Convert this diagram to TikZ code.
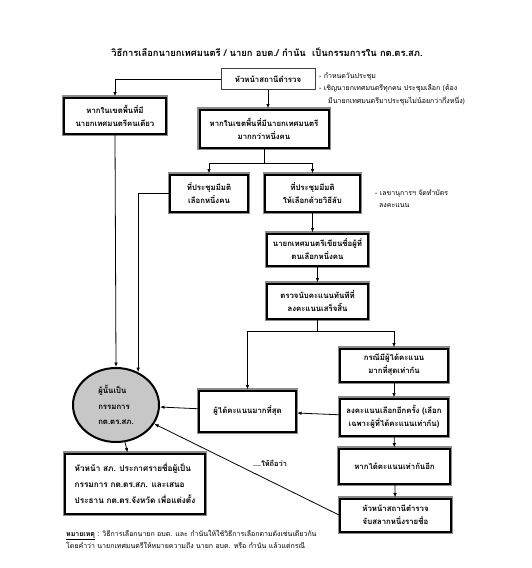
\documentclass[tikz,border=0pt]{standalone}
\usepackage{fontspec}
\newfontfamily\thaifont[Script=Thai]{Loma}
\usetikzlibrary{calc, shapes, arrows.meta}

\begin{document}
\begin{tikzpicture}[x=1pt, y=-1pt, >={Latex[length=4.5pt,width=3.5pt]},
    txt/.style={font=\thaifont\bfseries\fontsize{7.8}{13}\selectfont, inner sep=1pt},
    thinbox/.style={txt, draw=black!75, line width=0.8pt, align=center},
    heavybox/.style={txt, draw=black, line width=2pt, align=center},
    frame/.style={draw=black!45, line width=1.4pt},
    note/.style={font=\thaifont\fontsize{7}{12.5}\selectfont, align=left, anchor=west, inner sep=0pt},
    link/.style={line width=0.8pt}]
    \useasboundingbox (0,0) rectangle (532,568);

    % title
    \node[txt, font=\thaifont\bfseries\fontsize{9.4}{12}\selectfont] (title) at (267,52)
        {วิธีการเลือกนายกเทศมนตรี / นายก อบต./ กำนัน \ เป็นกรรมการใน กต.ตร.สภ.};

    % boxes
    \node[thinbox, minimum width=94pt, minimum height=21pt] (head) at (268,79) {หัวหน้าสถานีตำรวจ};
    \node[heavybox, minimum width=102pt, minimum height=36pt] (single) at (115,115.5)
        {หากในเขตพื้นที่มี\\นายกเทศมนตรีคนเดียว};
    \node[heavybox, minimum width=129pt, minimum height=38pt] (many) at (264,128.5)
        {หากในเขตพื้นที่มีนายกเทศมนตรี\\มากกว่าหนึ่งคน};
    \node[heavybox, minimum width=78pt, minimum height=37pt] (agree) at (209,193)
        {ที่ประชุมมีมติ\\เลือกหนึ่งคน};
    \node[heavybox, minimum width=95pt, minimum height=37pt] (secret) at (312.5,193)
        {ที่ประชุมมีมติ\\ให้เลือกด้วยวิธีลับ};
    \node[heavybox, minimum width=101pt, minimum height=32pt] (write) at (317.5,249.5)
        {นายกเทศมนตรีเขียนชื่อผู้ที่\\ตนเลือกหนึ่งคน};
    \node[heavybox, minimum width=101pt, minimum height=35pt] (count) at (317.5,301)
        {ตรวจนับคะแนนทันทีที่\\ลงคะแนนเสร็จสิ้น};
    \node[heavybox, minimum width=108pt, minimum height=33pt] (tie) at (394,365)
        {กรณีมีผู้ได้คะแนน\\มากที่สุดเท่ากัน};
    \node[heavybox, minimum width=108pt, minimum height=37pt] (revote) at (394,417)
        {ลงคะแนนเลือกอีกครั้ง (เลือก\\เฉพาะผู้ที่ได้คะแนนเท่ากัน)};
    \node[heavybox, minimum width=97pt, minimum height=41pt] (winner) at (247.5,411)
        {ผู้ได้คะแนนมากที่สุด};
    \node[heavybox, minimum width=111pt, minimum height=35pt] (tieagain) at (394.5,466)
        {หากได้คะแนนเท่ากันอีก};
    \node[heavybox, minimum width=111pt, minimum height=33pt] (draw) at (395.5,515)
        {หัวหน้าสถานีตำรวจ\\จับสลากหนึ่งรายชื่อ};
    \node[heavybox, align=left, minimum width=140pt, minimum height=60pt,
        font=\thaifont\bfseries\fontsize{8.2}{16}\selectfont] (announce) at (135,483.5)
        {หัวหน้า สภ. ประกาศรายชื่อผู้เป็น\\กรรมการ กต.ตร.สภ. และเสนอ\\ประธาน กต.ตร.จังหวัด เพื่อแต่งตั้ง};
    \node[txt, ellipse, draw=black, line width=2pt, fill=black!22, align=left,
        minimum width=86pt, minimum height=74pt, font=\thaifont\bfseries\fontsize{7.8}{15.5}\selectfont] (member) at (116,405)
        {ผู้นั้นเป็น\\กรรมการ\\กต.ตร.สภ.};

    % gray frames round the heavy boxes
    \foreach \n in {single,many,agree,secret,write,count,tie,revote,winner,tieagain,draw,announce}
        \draw[frame] ([shift={(-0.7pt,0.7pt)}]\n.north west) rectangle ([shift={(0.7pt,-0.7pt)}]\n.south east);

    % notes
    \node[note] (callnote) at (319,89)
        {- กำหนดวันประชุม\\- เชิญนายกเทศมนตรีทุกคน ประชุมเลือก (ต้อง\\\hspace*{9pt}มีนายกเทศมนตรีมาประชุมไม่น้อยกว่ากึ่งหนึ่ง)};
    \node[note] (ballotnote) at (375,198.5)
        {- เลขานุการฯ จัดทำบัตร\\\hspace*{4pt}ลงคะแนน};
    \node[txt, font=\thaifont\bfseries\fontsize{7.4}{12}\selectfont] (deem) at (270,463) {....ให้ถือว่า};
    \node[note] (remark) at (66,539.5)
        {\underline{\bfseries หมายเหตุ} : วิธีการเลือกนายก อบต. และ กำนันให้ใช้วิธีการเลือกตามดังเช่นเดียวกัน\\โดยคำว่า นายกเทศมนตรีให้หมายความถึง นายก อบต. หรือ กำนัน แล้วแต่กรณี};

    % connectors
    \coordinate (split) at ($(many.south)+(0,15)$);
    \coordinate (split2) at ($(count.south)+(0,12)$);
    \draw[link, ->] (head.west) -| (single.north);
    \draw[link, ->] (head.south) -- (head.south |- many.north);
    \draw[link] (many.south) -- (split);
    \draw[link, ->] (split) -| (agree.north);
    \draw[link, ->] (split) -| (secret.north);
    \draw[link, ->] (single.south) -- (member.north);
    \draw[link, ->] (agree.west) -| (member.56);
    \draw[link, ->] (secret.south) -- (secret.south |- write.north);
    \draw[link, ->] (write) -- (count);
    \draw[link] (count.south) -- (split2);
    \draw[link, ->] (split2) -| (tie.north);
    \draw[link, ->] (split2) -| (winner.north);
    \draw[link, ->] (tie) -- (revote);
    \draw[link, ->] (revote) -- (winner);
    \draw[link, ->] (winner) -- (member);
    \draw[link, ->] (revote) -- (tieagain);
    \draw[link, ->] (tieagain) -- (draw);
    \draw[link, ->] (draw.west) -- (member);
    \draw[link, ->] (member) -- (announce);
\end{tikzpicture}
\end{document}
